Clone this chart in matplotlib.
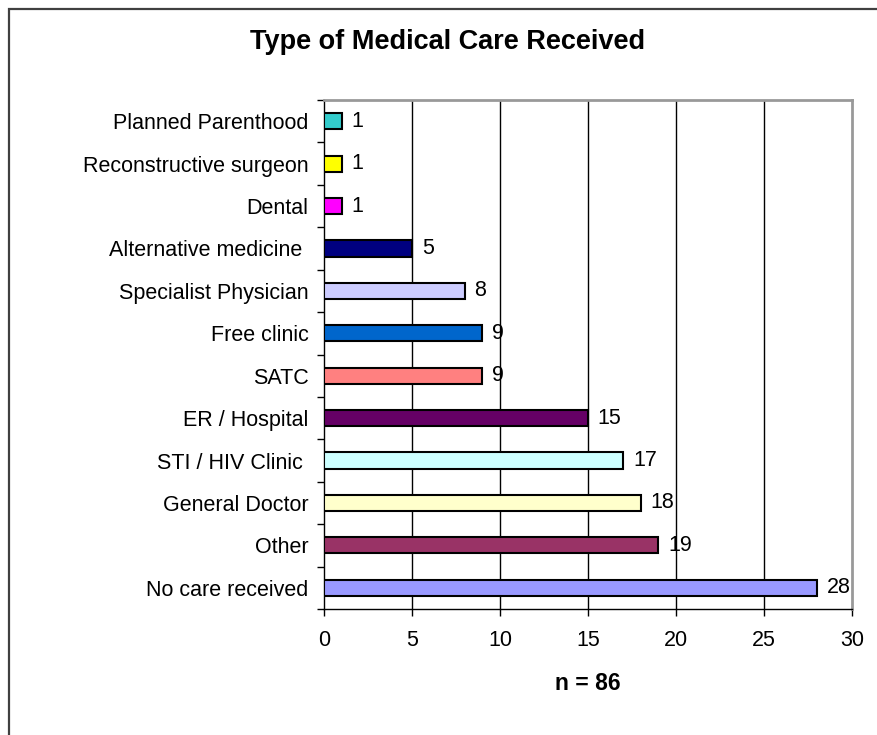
import matplotlib
matplotlib.use('Agg')
import matplotlib.pyplot as plt
from matplotlib.patches import Rectangle
import numpy as np

# data (bottom to top)
categories = ['No care received', 'Other', 'General Doctor', 'STI / HIV Clinic ',
              'ER / Hospital', 'SATC', 'Free clinic', 'Specialist Physician',
              'Alternative medicine ', 'Dental', 'Reconstructive surgeon',
              'Planned Parenthood']
counts = [28, 19, 18, 17, 15, 9, 9, 8, 5, 1, 1, 1]
bar_colors = ['#9999FF', '#993366', '#FFFFCC', '#CCFFFF', '#660066', '#FF8080',
              '#0066CC', '#CCCCFF', '#000080', '#FF00FF', '#FFFF00', '#33CCCC']
x_ticks = [0, 5, 10, 15, 20, 25, 30]

plt.rcParams['font.family'] = ['Liberation Sans', 'DejaVu Sans']

W, H = 878, 735
fig = plt.figure(figsize=(W / 100, H / 100), dpi=100)

# outer chart border (runs off the right and bottom of the picture)
fig.patches.append(Rectangle((9 / W, -0.05), 1.1, 1 - 9 / H + 0.05,
                             transform=fig.transFigure, fill=False,
                             edgecolor='#404040', linewidth=1.6))

ax = fig.add_axes([324 / W, 1 - 609 / H, (852 - 324) / W, (609 - 100) / H])

y = np.arange(len(categories))
ax.barh(y, counts, height=0.38, color=bar_colors, edgecolor='black',
        linewidth=1.5, zorder=3)

for yi, v in zip(y, counts):
    ax.text(v + 0.55, yi, str(v), va='center', ha='left', fontsize=15.5)

ax.set_xlim(0, 30)
ax.set_ylim(-0.5, len(categories) - 0.5)
ax.set_xticks(x_ticks)
ax.set_xticklabels([str(t) for t in x_ticks], fontsize=15.5)
ax.set_yticks(y)
ax.set_yticklabels(categories, fontsize=15.5)
ax.tick_params(axis='y', length=0, pad=11)
ax.set_yticks(np.arange(-0.5, len(categories), 1), minor=True)
ax.tick_params(axis='y', which='minor', length=5, width=1, direction='out')
ax.tick_params(axis='x', length=5, width=1, direction='out', pad=10)

for xv in x_ticks[1:-1]:
    ax.axvline(xv, color='black', linewidth=1, zorder=1)

ax.spines['left'].set_color('black')
ax.spines['bottom'].set_color('black')
ax.spines['left'].set_linewidth(1)
ax.spines['bottom'].set_linewidth(1)
ax.spines['top'].set_color('#999999')
ax.spines['right'].set_color('#999999')
ax.spines['top'].set_linewidth(2)
ax.spines['right'].set_linewidth(2)

fig.text(448 / W, 1 - 42 / H, 'Type of Medical Care Received', ha='center',
         va='center', fontsize=19.5, fontweight='bold')
fig.text(588 / W, 1 - 683 / H, 'n = 86', ha='center', va='center',
         fontsize=16.5, fontweight='bold')

fig.savefig('out.png', dpi=100)
